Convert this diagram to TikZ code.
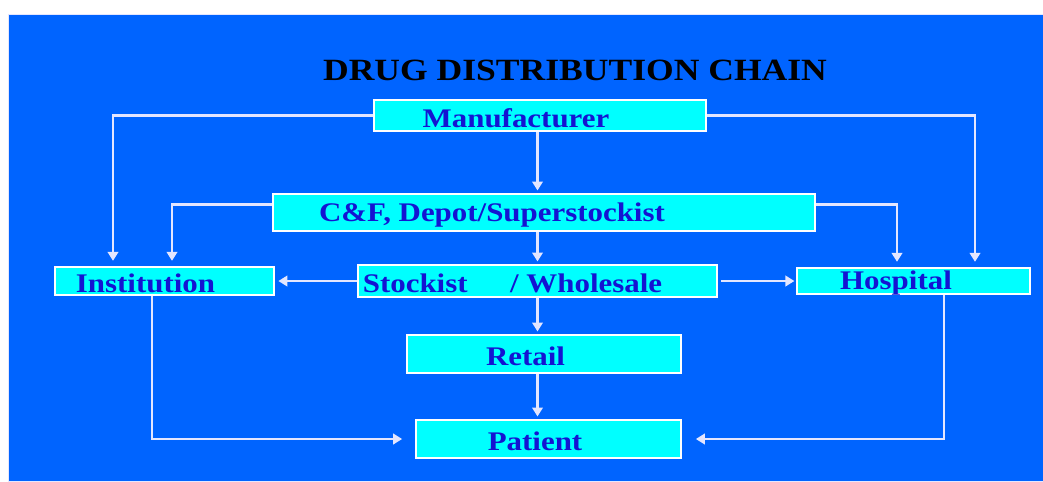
\documentclass[tikz,border=0pt]{standalone}
\usepackage{fontspec}
\setmainfont{Liberation Serif}[FakeStretch=1.15]
\usetikzlibrary{arrows.meta,positioning,calc}
\usepackage{xcolor}
\definecolor{ddback}{RGB}{0,100,255}
\definecolor{ddcyan}{RGB}{0,255,255}
\definecolor{ddink}{RGB}{20,20,210}
\definecolor{ddwire}{RGB}{228,230,255}
\tikzset{
  ddbox/.style={draw=white, fill=ddcyan, line width=1pt, inner sep=0pt},
  ddtext/.style={text=ddink, font=\fontsize{15.3}{18}\selectfont\bfseries, inner sep=0pt, yshift=-0.05cm},
  ddtitle/.style={font=\fontsize{17.6}{20}\selectfont\bfseries, inner sep=0pt},
  ddarrow/.style={-{Triangle[length=1.8mm,width=2.1mm]}, draw=ddwire, line width=1.6pt, shorten >=1.5pt},
}

\begin{document}
\begin{tikzpicture}[x=0.02cm, y=-0.02cm]
  \useasboundingbox (0,0) rectangle (1043,481);
  \fill[white] (0,0) rectangle (1043,481);
  \filldraw[fill=ddback, draw=ddwire, line width=0.5pt] (8,14) rectangle (1043,481);

  \node[ddtitle] (title) at (575,70) {DRUG DISTRIBUTION CHAIN};

  \node[ddbox, minimum width=6.64cm, minimum height=0.62cm,
    label={[ddtext, xshift=-0.48cm]center:Manufacturer}] (manu) at (540,115.5) {};
  \node[ddbox, minimum width=10.84cm, minimum height=0.74cm,
    label={[ddtext, xshift=-1.04cm]center:C\&F, Depot/Superstockist}] (cf) at (544,212.5) {};
  \node[ddbox, minimum width=4.38cm, minimum height=0.56cm,
    label={[ddtext, xshift=-0.38cm]center:Institution}] (inst) at (164.5,281) {};
  \node[ddbox, minimum width=7.18cm, minimum height=0.64cm,
    label={[ddtext, xshift=-0.5cm]center:Stockist\hspace{0.85cm}/ Wholesale}] (stock) at (537.5,281) {};
  \node[ddbox, minimum width=4.66cm, minimum height=0.52cm,
    label={[ddtext, xshift=-0.35cm]center:Hospital}] (hosp) at (913.5,281) {};
  \node[ddbox, minimum width=5.48cm, minimum height=0.76cm,
    label={[ddtext, xshift=-0.37cm]center:Retail}] (retail) at (544,354) {};
  \node[ddbox, minimum width=5.3cm, minimum height=0.76cm,
    label={[ddtext, xshift=-0.27cm]center:Patient}] (patient) at (548.5,439) {};

  \draw[ddarrow, shorten >=3pt] (manu.west) -| ($(inst.north)+(-51.5,0)$);
  \draw[ddarrow, shorten >=3pt] (manu.east) -| ($(hosp.north)+(61.5,0)$);
  \draw[ddarrow] (manu.south -| stock) -- (cf.north -| stock);
  \draw[ddarrow, shorten >=3pt] ($(cf.west)+(0,-8)$) -| ($(inst.north)+(7.5,0)$);
  \draw[ddarrow, shorten >=3pt] ($(cf.east)+(0,-8)$) -| ($(hosp.north)+(-16.5,0)$);
  \draw[ddarrow] (cf.south -| stock) -- (stock.north);
  \draw[ddarrow, shorten >=2pt] (stock.west) -- (inst.east);
  \draw[ddarrow, shorten <=2pt, shorten >=1pt] (stock.east) -- (hosp.west);
  \draw[ddarrow] (stock.south) -- (retail.north -| stock);
  \draw[ddarrow] (retail.south -| stock) -- (patient.north -| stock);
  \draw[ddarrow, shorten >=2.6mm] ($(inst.south)+(-12.5,0)$) |- (patient.west);
  \draw[ddarrow, shorten >=2.8mm] ($(hosp.south)+(30.5,0)$) |- (patient.east);
\end{tikzpicture}
\end{document}
